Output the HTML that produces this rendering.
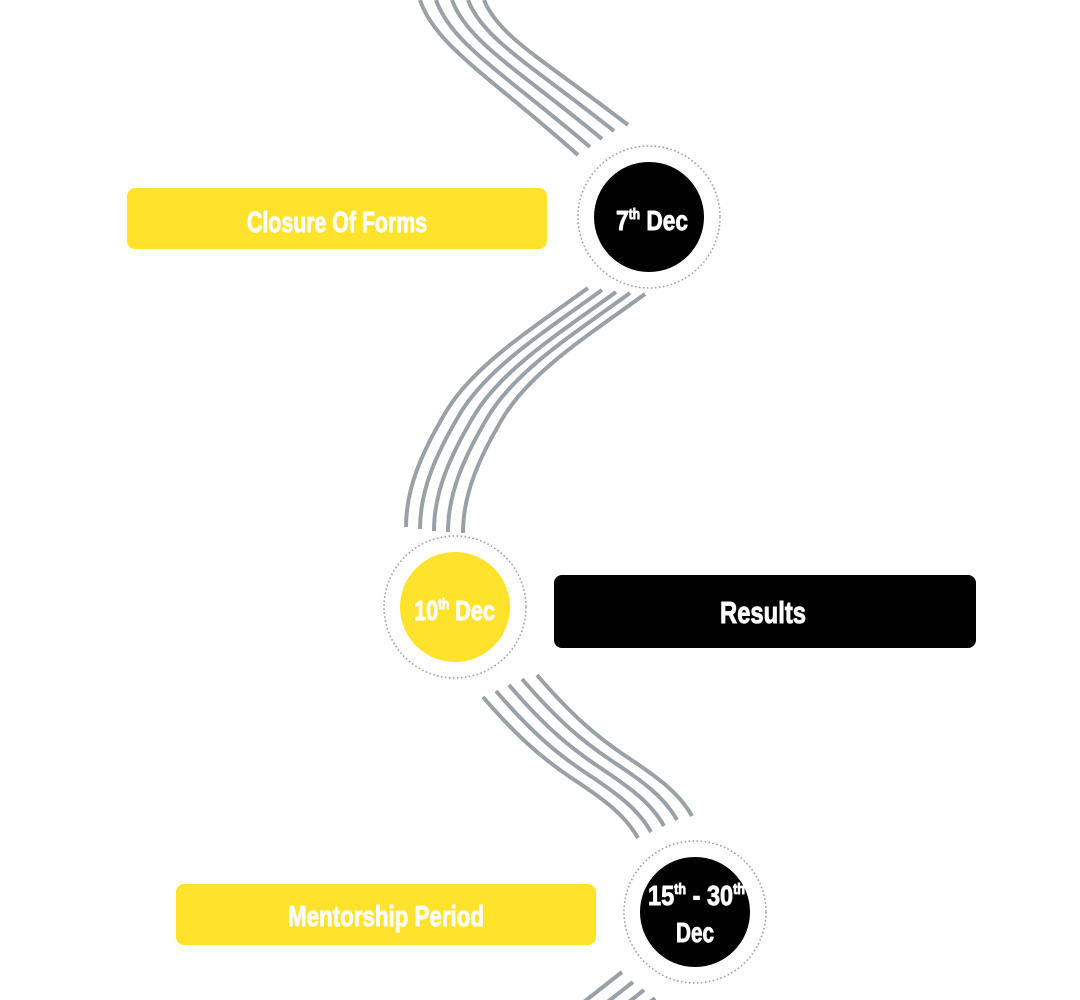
<!DOCTYPE html>
<html><head><meta charset="utf-8"><style>
html,body{margin:0;padding:0;background:#fff;}
svg{display:block;}
text{font-family:"Liberation Sans Narrow","Liberation Sans",sans-serif;font-weight:bold;fill:#fff;stroke:#fff;stroke-width:0.9;}
</style></head><body>
<svg width="1080" height="1000" viewBox="0 0 1080 1000" xmlns="http://www.w3.org/2000/svg">
<g fill="none" stroke="#9aa1a6" stroke-width="4">
  <g>
    <path d="M420,0 C435,45 488,75 578,155"/>
    <path d="M436,0 C451,43 502,72 590,147"/>
    <path d="M452,0 C467,41 516,68 602,139"/>
    <path d="M468,0 C483,39 530,64 614,131"/>
    <path d="M484,0 C499,37 544,60 628,125"/>
  </g>
  <g>
    <path d="M588,288 C530,330 475,365 447,410 C420,455 406,490 406,527"/>
    <path transform="translate(14,2)" d="M588,288 C530,330 475,365 447,410 C420,455 406,490 406,527"/>
    <path transform="translate(28,4)" d="M588,288 C530,330 475,365 447,410 C420,455 406,490 406,527"/>
    <path transform="translate(42,5)" d="M588,288 C530,330 475,365 447,410 C420,455 406,490 406,527"/>
    <path transform="translate(57,6)" d="M588,288 C530,330 475,365 447,410 C420,455 406,490 406,527"/>
  </g>
  <g>
    <path d="M483,697 C520,740 545,760 570,777 C605,800 625,815 638,838"/>
    <path transform="translate(13,-6)" d="M483,697 C520,740 545,760 570,777 C605,800 625,815 638,838"/>
    <path transform="translate(26,-12)" d="M483,697 C520,740 545,760 570,777 C605,800 625,815 638,838"/>
    <path transform="translate(39,-18)" d="M483,697 C520,740 545,760 570,777 C605,800 625,815 638,838"/>
    <path transform="translate(54,-22)" d="M483,697 C520,740 545,760 570,777 C605,800 625,815 638,838"/>
  </g>
  <g>
    <path d="M622,972 L580,1005"/>
    <path d="M633,982 L601,1007"/>
    <path d="M644,990 L620,1009"/>
    <path d="M655,998 L640,1010"/>
  </g>
</g>

<g fill="none" stroke="#9aa1a6" stroke-width="1.6" stroke-dasharray="1.6 2.4">
  <circle cx="649" cy="217" r="71"/>
  <circle cx="455" cy="607" r="71"/>
  <circle cx="695" cy="912" r="71"/>
</g>
<circle cx="649" cy="217" r="55" fill="#000"/>
<circle cx="455" cy="607" r="55" fill="#ffe22b"/>
<circle cx="695" cy="912" r="55" fill="#000"/>

<rect x="127" y="188" width="420" height="61" rx="8" fill="#ffe22b"/>
<rect x="554" y="575" width="422" height="73" rx="8" fill="#000"/>
<rect x="176" y="884" width="420" height="61" rx="8" fill="#ffe22b"/>

<text x="247" y="232" font-size="29" textLength="180" lengthAdjust="spacingAndGlyphs">Closure Of Forms</text>
<text x="720" y="623" font-size="31" textLength="86" lengthAdjust="spacingAndGlyphs">Results</text>
<text x="288" y="926" font-size="29" textLength="196" lengthAdjust="spacingAndGlyphs">Mentorship Period</text>

<text x="616" y="230" font-size="28" textLength="72" lengthAdjust="spacingAndGlyphs">7<tspan font-size="15" dy="-11">th</tspan><tspan dy="11"> Dec</tspan></text>
<text x="414" y="620" font-size="28" textLength="81" lengthAdjust="spacingAndGlyphs">10<tspan font-size="15" dy="-11">th</tspan><tspan dy="11"> Dec</tspan></text>
<text x="648" y="905" font-size="28" textLength="97" lengthAdjust="spacingAndGlyphs">15<tspan font-size="15" dy="-11">th</tspan><tspan dy="11"> - 30</tspan><tspan font-size="15" dy="-11">th</tspan></text>
<text x="676" y="942" font-size="28" textLength="38" lengthAdjust="spacingAndGlyphs">Dec</text>
</svg>
</body></html>
